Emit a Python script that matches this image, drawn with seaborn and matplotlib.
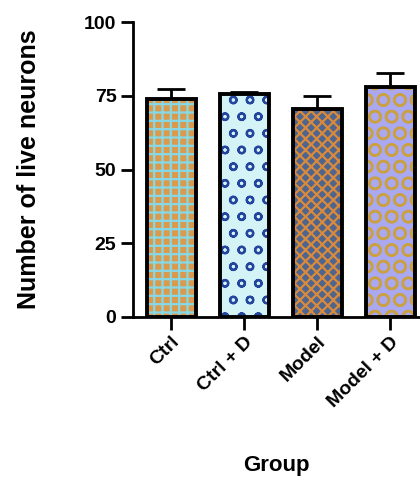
import matplotlib
matplotlib.use("Agg")
import matplotlib.pyplot as plt
import seaborn as sns
import pandas as pd

# Group labels, mean neuron counts and the upper error (SD)
groups = ["Ctrl", "Ctrl + D", "Model", "Model + D"]
means = [73.8, 75.5, 70.4, 77.9]
errors = [3.4, 0.8, 4.4, 4.8]
y_ticks = [0, 25, 50, 75, 100]

# Fill patterns per group: background colour, hatch, hatch colour
fills = ["#d99a4e", "#d4f3f7", "#4e6590", "#a9a8f0"]
hatches = ["++", "o", "xxx", "O"]
hatch_cols = ["#86d8e6", "#23459e", "#d98a3a", "#caa040"]

df = pd.DataFrame({"Group": groups, "Neurons": means})

sns.set_theme(style="ticks")
plt.rcParams["font.family"] = ["Liberation Sans", "DejaVu Sans"]
plt.rcParams["font.weight"] = "bold"
plt.rcParams["hatch.linewidth"] = 1.6
for key in ["text.color", "axes.labelcolor", "xtick.color", "ytick.color"]:
    plt.rcParams[key] = "black"

fig = plt.figure(figsize=(4.2, 4.83), dpi=100)
ax = fig.add_axes([0.317, 0.344, 0.683, 0.61])

# Patterned fill layer
sns.barplot(data=df, x="Group", y="Neurons", order=groups, width=0.67,
            errorbar=None, ax=ax, linewidth=0, zorder=2)
for patch, fc, h, hc in zip(ax.patches, fills, hatches, hatch_cols):
    patch.set_facecolor(fc)
    patch.set_hatch(h)
    patch.set_edgecolor(hc)
    patch.set_linewidth(0)

# Black outlines on top
sns.barplot(data=df, x="Group", y="Neurons", order=groups, width=0.67,
            errorbar=None, ax=ax, fill=False, color="black",
            linewidth=2.8, zorder=3)

# Upper error bars only
ax.errorbar(range(len(groups)), means, yerr=[[0] * len(errors), errors],
            fmt="none", ecolor="black", elinewidth=2, capsize=10,
            capthick=2, zorder=1)

ax.set_ylim(0, 100)
ax.set_yticks(y_ticks)
ax.set_yticklabels([str(t) for t in y_ticks], fontsize=14, fontweight="bold")
ax.set_xlim(-0.52, 3.41)
ax.set_xticks(range(len(groups)))
ax.set_xticklabels(groups, rotation=45, ha="right", rotation_mode="anchor",
                   fontsize=14, fontweight="bold")

ax.set_ylabel("Number of live neurons", fontsize=18, fontweight="bold",
              labelpad=31)
ax.set_xlabel("Group", fontsize=16, fontweight="bold", labelpad=32)

for side in ["top", "right"]:
    ax.spines[side].set_visible(False)
for side in ["left", "bottom"]:
    ax.spines[side].set_linewidth(2)
    ax.spines[side].set_color("black")
ax.tick_params(axis="both", width=2, length=9, color="black", pad=3,
               labelcolor="black")

fig.savefig("out.png", dpi=100)
